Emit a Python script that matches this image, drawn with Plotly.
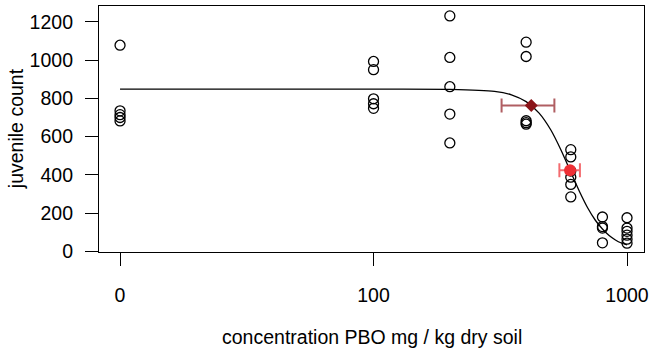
import plotly.graph_objects as go

# observed data (concentration mg/kg, juvenile count)
conc_0 = [0, 0, 0, 0, 0]
count_0 = [1078, 735, 715, 700, 682]
conc_100 = [100] * 5
count_100 = [993, 950, 798, 772, 748]
conc_200 = [200] * 5
count_200 = [1231, 1014, 861, 718, 567]
conc_400 = [400] * 5
count_400 = [1094, 1019, 683, 673, 665]
conc_600 = [600] * 6
count_600 = [532, 494, 420, 388, 350, 285]
conc_800 = [800] * 4
count_800 = [180, 130, 122, 45]
conc_1000 = [1000] * 6
count_1000 = [176, 122, 105, 85, 64, 43]

# fitted curve
curve_x = [0, 100, 200, 300, 350, 400, 450, 500, 550, 600, 650, 700, 750, 800, 850, 900, 950, 1000]
curve_y = [848, 848, 847, 837, 819, 783, 723, 636, 528, 415, 312, 227, 163, 117, 83, 60, 44, 34]

# effect concentrations with confidence limits
ec10 = 419
ec10_lo = 320
ec10_hi = 517
ec10_y = 763
ec50 = 596
ec50_lo = 541
ec50_hi = 652
ec50_y = 424

x_ticks = [0, 100, 1000]
y_ticks = [0, 200, 400, 600, 800, 1000, 1200]

ZERO_POS = 10  # where concentration 0 is drawn on the log axis


def pos(v):
    return [ZERO_POS if c == 0 else c for c in v]


all_x = conc_0 + conc_100 + conc_200 + conc_400 + conc_600 + conc_800 + conc_1000
all_y = count_0 + count_100 + count_200 + count_400 + count_600 + count_800 + count_1000

fig = go.Figure()

fig.add_trace(go.Scatter(
    x=pos(curve_x), y=curve_y, mode="lines",
    line=dict(color="black", width=1.3, shape="spline", smoothing=0.6),
    hoverinfo="skip", showlegend=False))

fig.add_trace(go.Scatter(
    x=pos(all_x), y=all_y, mode="markers",
    marker=dict(symbol="circle-open", size=10, color="black", line=dict(width=1.3)),
    showlegend=False))

fig.add_trace(go.Scatter(
    x=[ec10], y=[ec10_y], mode="markers",
    marker=dict(symbol="diamond", size=10, color="#8b1418"),
    error_x=dict(type="data", symmetric=False,
                 array=[ec10_hi - ec10], arrayminus=[ec10 - ec10_lo],
                 color="rgba(150,40,45,0.75)", thickness=2, width=7),
    showlegend=False))

fig.add_trace(go.Scatter(
    x=[ec50], y=[ec50_y], mode="markers",
    marker=dict(symbol="circle", size=12, color="#ee3035"),
    error_x=dict(type="data", symmetric=False,
                 array=[ec50_hi - ec50], arrayminus=[ec50 - ec50_lo],
                 color="rgba(240,70,75,0.8)", thickness=2, width=7),
    showlegend=False))

font = dict(family="Liberation Sans, Arial, Helvetica, sans-serif", size=19.5, color="black")

fig.update_layout(
    width=654, height=351,
    margin=dict(l=99, r=5, t=6, b=98.5),
    plot_bgcolor="white", paper_bgcolor="white",
    font=font,
    xaxis=dict(type="log", range=[0.917, 3.067],
               tickvals=pos(x_ticks), ticktext=[str(t) for t in x_ticks],
               ticks="outside", ticklen=13, tickwidth=1, tickcolor="black",
               showgrid=False, zeroline=False,
               showline=True, mirror=True, linecolor="black", linewidth=1.2,
               ticklabelstandoff=12, ticklabeloverflow="allow", tickfont=font),
    yaxis=dict(range=[-3, 1283], tickvals=y_ticks,
               ticks="outside", ticklen=13, tickwidth=1, tickcolor="black",
               showgrid=False, zeroline=False,
               showline=True, mirror=True, linecolor="black", linewidth=1.2,
               ticklabelstandoff=8, ticklabeloverflow="allow", tickfont=font),
    annotations=[
        dict(text="concentration PBO mg / kg dry soil", xref="paper", yref="paper",
             x=0.5, y=-0.347, xanchor="center", yanchor="middle",
             showarrow=False, font=font),
        dict(text="juvenile count", xref="paper", yref="paper",
             x=-0.152, y=0.5, xanchor="center", yanchor="middle",
             textangle=-90, showarrow=False, font=font),
    ],
)

fig.write_html("out.html")
